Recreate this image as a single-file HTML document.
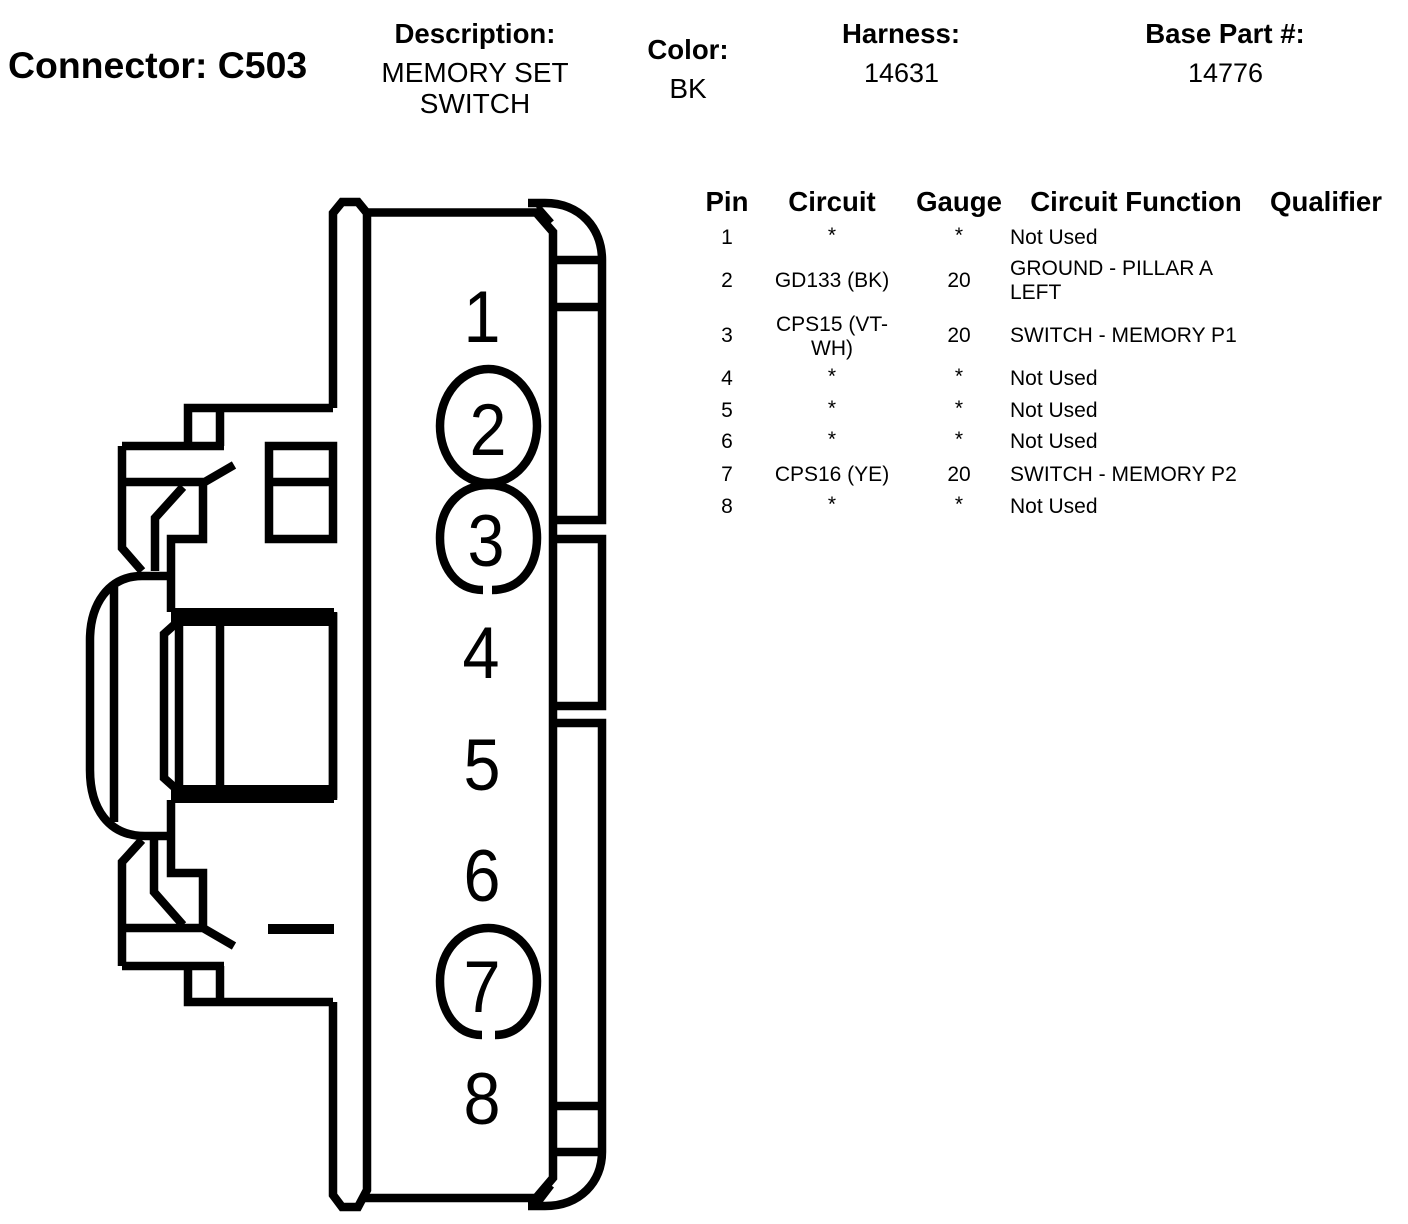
<!DOCTYPE html>
<html><head><meta charset="utf-8"><style>
html,body{margin:0;padding:0;background:#fff}
svg{display:block}
text{font-family:"Liberation Sans",sans-serif;fill:#000}
.h{font-weight:bold;font-size:27.6px;text-anchor:middle}
.v{font-size:28px;text-anchor:middle}
.t{font-size:21px;text-anchor:middle}
.l{font-size:21px}
.n{font-size:73px;text-anchor:middle}
.s{fill:none;stroke:#000;stroke-width:8.5;stroke-linejoin:miter;stroke-linecap:butt}
</style></head><body>
<svg width="1408" height="1224" viewBox="0 0 1408 1224" xmlns="http://www.w3.org/2000/svg">
<text x="8" y="78" style="font-weight:bold;font-size:37.4px">Connector: C503</text>
<text class="h" x="475" y="43">Description:</text>
<text class="v" x="475" y="82">MEMORY SET</text>
<text class="v" x="475" y="113">SWITCH</text>
<text class="h" x="688" y="59">Color:</text>
<text class="v" x="688" y="98">BK</text>
<text class="h" x="901" y="43">Harness:</text>
<text class="v" x="901.5" y="82" style="font-size:27px">14631</text>
<text class="h" x="1225" y="43">Base Part #:</text>
<text class="v" x="1225.5" y="82" style="font-size:27px">14776</text>

<text class="h" x="727" y="211">Pin</text>
<text class="h" x="832" y="211">Circuit</text>
<text class="h" x="959" y="211">Gauge</text>
<text class="h" x="1136" y="211">Circuit Function</text>
<text class="h" x="1326" y="211">Qualifier</text>

<text class="t" x="727" y="244">1</text><text class="t" x="832" y="242">*</text><text class="t" x="959" y="242">*</text><text class="l" x="1010" y="244">Not Used</text>
<text class="t" x="727" y="287">2</text><text class="t" x="832" y="287">GD133 (BK)</text><text class="t" x="959" y="287">20</text><text class="l" x="1010" y="275">GROUND - PILLAR A</text><text class="l" x="1010" y="299">LEFT</text>
<text class="t" x="727" y="342">3</text><text class="t" x="832" y="331">CPS15 (VT-</text><text class="t" x="832" y="355">WH)</text><text class="t" x="959" y="342">20</text><text class="l" x="1010" y="342">SWITCH - MEMORY P1</text>
<text class="t" x="727" y="385">4</text><text class="t" x="832" y="383">*</text><text class="t" x="959" y="383">*</text><text class="l" x="1010" y="385">Not Used</text>
<text class="t" x="727" y="417">5</text><text class="t" x="832" y="415">*</text><text class="t" x="959" y="415">*</text><text class="l" x="1010" y="417">Not Used</text>
<text class="t" x="727" y="448">6</text><text class="t" x="832" y="446">*</text><text class="t" x="959" y="446">*</text><text class="l" x="1010" y="448">Not Used</text>
<text class="t" x="727" y="481">7</text><text class="t" x="832" y="481">CPS16 (YE)</text><text class="t" x="959" y="481">20</text><text class="l" x="1010" y="481">SWITCH - MEMORY P2</text>
<text class="t" x="727" y="513">8</text><text class="t" x="832" y="511">*</text><text class="t" x="959" y="511">*</text><text class="l" x="1010" y="513">Not Used</text>

<!-- body -->
<path class="s" d="M333 408V213L342 202H358L367 213V1190L358 1207H342L333 1195V1002"/>
<path class="s" d="M363 212.5H536L553 232V1178L536 1198H363"/>
<path class="s" d="M528 203H545C580 203 602 228 602 260V520H553"/>
<path class="s" d="M553 260H602M553 307H602"/>
<path class="s" d="M553 539H602V706H553M553 723H602V1152M553 1106H602M553 1152H602"/>
<path class="s" d="M602 1152C602 1182 580 1206 545 1206H528"/>
<path d="M538 206L552 222M552 1186L539 1203" fill="none" stroke="#000" stroke-width="5"/>

<!-- upper latch -->
<path class="s" d="M333 408H188V446M220 408V446M122 446H224M122 446V548L142 571M122 482H205M203 482V539H171V612M203 483L234 465M183 487L155 518V571"/>
<path class="s" d="M269 446H333V539H269ZM269 482H333"/>

<!-- lower latch -->
<path class="s" d="M333 1002H188V966M220 1002V966M122 966H224M122 966V862L142 840M122 928H205M203 928V873H171V800M203 928L234 946M183 925L154 892V840"/>
<path class="s" d="M268 929H334" style="stroke-width:10"/>

<!-- button -->
<path class="s" d="M171 576H142C108 576 90 605 90 640V770C90 808 108 836 145 836H171"/>
<path class="s" d="M114 587V822"/>
<path class="s" d="M171 617H333V794H171"/>
<rect x="171" y="608" width="163" height="18" fill="#000"/>
<rect x="171" y="785" width="163" height="18" fill="#000"/>
<path class="s" d="M179 622V790M220 622V790M333 612V800"/>
<path class="s" d="M174 625L164 634V778L174 787"/>

<!-- circles -->
<ellipse class="s" cx="488.5" cy="426" rx="48.5" ry="57"/>
<path class="s" d="M483 590C455 590 440 565 440 538C440 505 462 485 488.5 485C515 485 537 505 537 538C537 565 522 590 492 590"/>
<path class="s" d="M482 1035C455 1035 440 1010 440 981C440 950 462 928 488.5 928C515 928 537 950 537 981C537 1010 522 1035 495 1035"/>

<text class="n" x="482" y="342" textLength="37" lengthAdjust="spacingAndGlyphs">1</text>
<text class="n" x="488" y="455" textLength="37" lengthAdjust="spacingAndGlyphs">2</text>
<text class="n" x="486" y="566" textLength="37" lengthAdjust="spacingAndGlyphs">3</text>
<text class="n" x="481" y="678" textLength="37" lengthAdjust="spacingAndGlyphs">4</text>
<text class="n" x="482" y="790" textLength="37" lengthAdjust="spacingAndGlyphs">5</text>
<text class="n" x="482" y="901" textLength="37" lengthAdjust="spacingAndGlyphs">6</text>
<text class="n" x="482" y="1012" textLength="37" lengthAdjust="spacingAndGlyphs">7</text>
<text class="n" x="482" y="1124" textLength="37" lengthAdjust="spacingAndGlyphs">8</text>
</svg>
</body></html>
